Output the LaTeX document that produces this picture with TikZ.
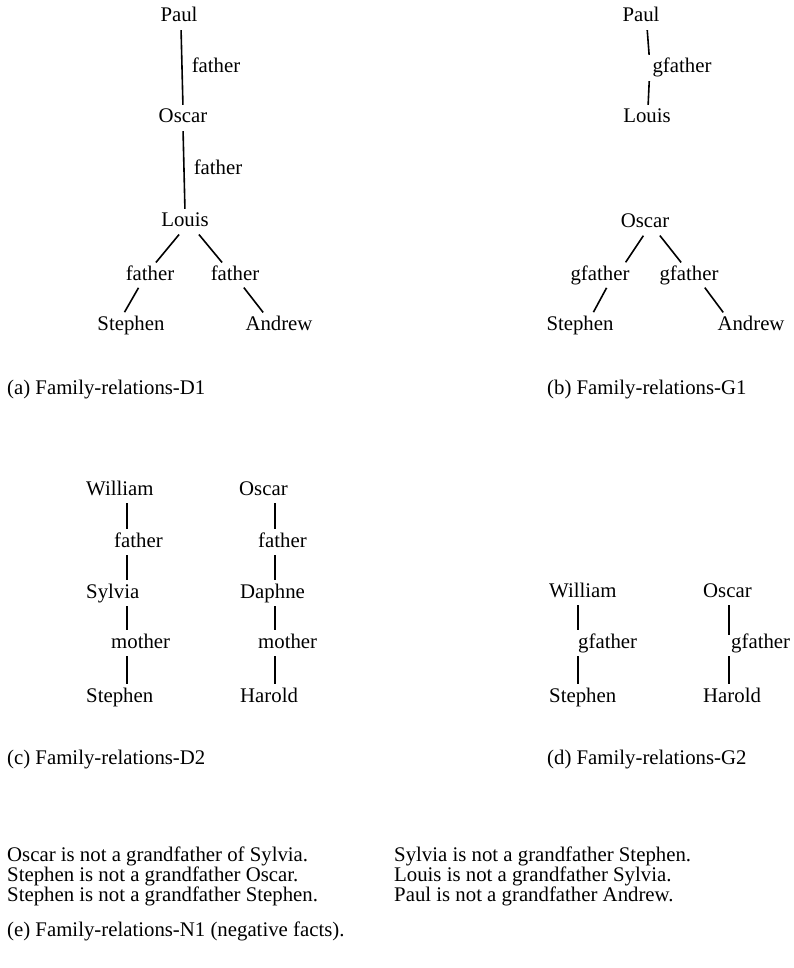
\documentclass[tikz,border=0pt]{standalone}
\usepackage{fontspec}
\setmainfont{Liberation Serif}

\begin{document}
\begin{tikzpicture}[
    x=1pt, y=-1pt,
    every node/.style={font=\fontsize{20.8}{25}\selectfont},
    person/.style={inner sep=1pt, text height=14pt, text depth=4pt},
    rellabel/.style={inner sep=1pt, text height=14pt, text depth=4pt},
    link/.style={line width=1.6pt, shorten <=3pt, shorten >=3pt},
    caption/.style={anchor=west, inner sep=0pt}
]
\useasboundingbox (0,0) rectangle (793,968);

% ===== (a) FAMILY-RELATIONS-D1 =====
\node[person] (paulA) at (179,17) {Paul};
\node[person] (oscarA) at (183,118) {Oscar};
\node[person] (louisA) at (185,222) {Louis};
\node[rellabel] (lfA) at (150,275) {father};
\node[rellabel] (rfA) at (235,275) {father};
\node[person] (stephenA) at (131,325) {Stephen};
\node[person] (andrewA) at (279,325) {Andrew};

\draw[link] ([xshift=2]paulA.south) -- (oscarA.north)
    node[rellabel, midway, right=8pt] (faA) {father};
\draw[link] (oscarA.south) -- (louisA.north)
    node[rellabel, midway, right=8pt] (fbA) {father};
\draw[link] ([xshift=-4]louisA.south) -- ([xshift=4]lfA.north);
\draw[link] ([xshift=-10]lfA.south) -- ([xshift=-8]stephenA.north);
\draw[link] ([xshift=12]louisA.south) -- ([xshift=-11]rfA.north);
\draw[link] ([xshift=7]rfA.south) -- ([xshift=-14]andrewA.north);

\node[caption] (capA) at (7,390) {(a) Family-relations-D1};

% ===== (b) FAMILY-RELATIONS-G1 =====
\node[person] (paulB) at (641,17) {Paul};
\node[rellabel] (gfB) at (682,68) {gfather};
\node[person] (louisB) at (647,118) {Louis};
\draw[link] ([xshift=6]paulB.south) -- ([xshift=-2]gfB.north west);
\draw[link] ([xshift=-2]gfB.south west) -- ([xshift=1]louisB.north);

\node[person] (oscarB) at (645,223) {Oscar};
\node[rellabel] (lgfB) at (600,275) {gfather};
\node[rellabel] (rgfB) at (689,275) {gfather};
\node[person] (stephenB) at (580,325) {Stephen};
\node[person] (andrewB) at (751,325) {Andrew};
\draw[link] (oscarB.south) -- ([xshift=24]lgfB.north);
\draw[link] ([xshift=13]oscarB.south) -- ([xshift=-6]rgfB.north);
\draw[link] ([xshift=8]lgfB.south) -- ([xshift=12]stephenB.north);
\draw[link] ([xshift=14]rgfB.south) -- ([xshift=-26]andrewB.north);

\node[caption] (capB) at (547,390) {(b) Family-relations-G1};

% ===== (c) FAMILY-RELATIONS-D2 =====
\coordinate (lineC1) at (127,0);
\coordinate (lineC2) at (275,0);

\node[person, anchor=west] (williamC) at (85,490) {William};
\node[rellabel, anchor=west] (fatherC) at (113,542) {father};
\node[person, anchor=west] (sylviaC) at (85,593) {Sylvia};
\node[rellabel, anchor=west] (motherC) at (110,643) {mother};
\node[person, anchor=west] (stephenC) at (85,697) {Stephen};

\node[person, anchor=west] (oscarC) at (238,490) {Oscar};
\node[rellabel, anchor=west] (father2C) at (257,542) {father};
\node[person, anchor=west] (daphneC) at (239,593) {Daphne};
\node[rellabel, anchor=west] (mother2C) at (257,643) {mother};
\node[person, anchor=west] (haroldC) at (239,697) {Harold};

\draw[link] (williamC.south -| lineC1) -- (fatherC.north -| lineC1);
\draw[link] (fatherC.south -| lineC1) -- (sylviaC.north -| lineC1);
\draw[link] (sylviaC.south -| lineC1) -- (motherC.north -| lineC1);
\draw[link] (motherC.south -| lineC1) -- (stephenC.north -| lineC1);

\draw[link] (oscarC.south -| lineC2) -- (father2C.north -| lineC2);
\draw[link] (father2C.south -| lineC2) -- (daphneC.north -| lineC2);
\draw[link] (daphneC.south -| lineC2) -- (mother2C.north -| lineC2);
\draw[link] (mother2C.south -| lineC2) -- (haroldC.north -| lineC2);

\node[caption] (capC) at (7,760) {(c) Family-relations-D2};

% ===== (d) FAMILY-RELATIONS-G2 =====
\coordinate (lineD1) at (578,0);
\coordinate (lineD2) at (729,0);

\node[person, anchor=west] (williamD) at (548,592) {William};
\node[rellabel, anchor=west] (gfD) at (577,643) {gfather};
\node[person, anchor=west] (stephenD) at (548,697) {Stephen};

\node[person, anchor=west] (oscarD) at (702,592) {Oscar};
\node[rellabel, anchor=west] (gf2D) at (730,643) {gfather};
\node[person, anchor=west] (haroldD) at (702,697) {Harold};

\draw[link] (williamD.south -| lineD1) -- (gfD.north -| lineD1);
\draw[link] (gfD.south -| lineD1) -- (stephenD.north -| lineD1);
\draw[link] (oscarD.south -| lineD2) -- ([yshift=-5]gf2D.north -| lineD2);
\draw[link] (gf2D.south -| lineD2) -- (haroldD.north -| lineD2);

\node[caption] (capD) at (547,760) {(d) Family-relations-G2};

% ===== (e) FAMILY-RELATIONS-N1 =====
\node[caption, align=left, font=\fontsize{20.8}{20}\selectfont] (negL) at (7,876)
    {Oscar is not a grandfather of Sylvia.\\Stephen is not a grandfather Oscar.\\Stephen is not a grandfather Stephen.};
\node[caption, align=left, font=\fontsize{20.8}{20}\selectfont] (negR) at (394,876)
    {Sylvia is not a grandfather Stephen.\\Louis is not a grandfather Sylvia.\\Paul is not a grandfather Andrew.};

\node[caption] (capE) at (7,931) {(e) Family-relations-N1 (negative facts).};

\end{tikzpicture}
\end{document}
